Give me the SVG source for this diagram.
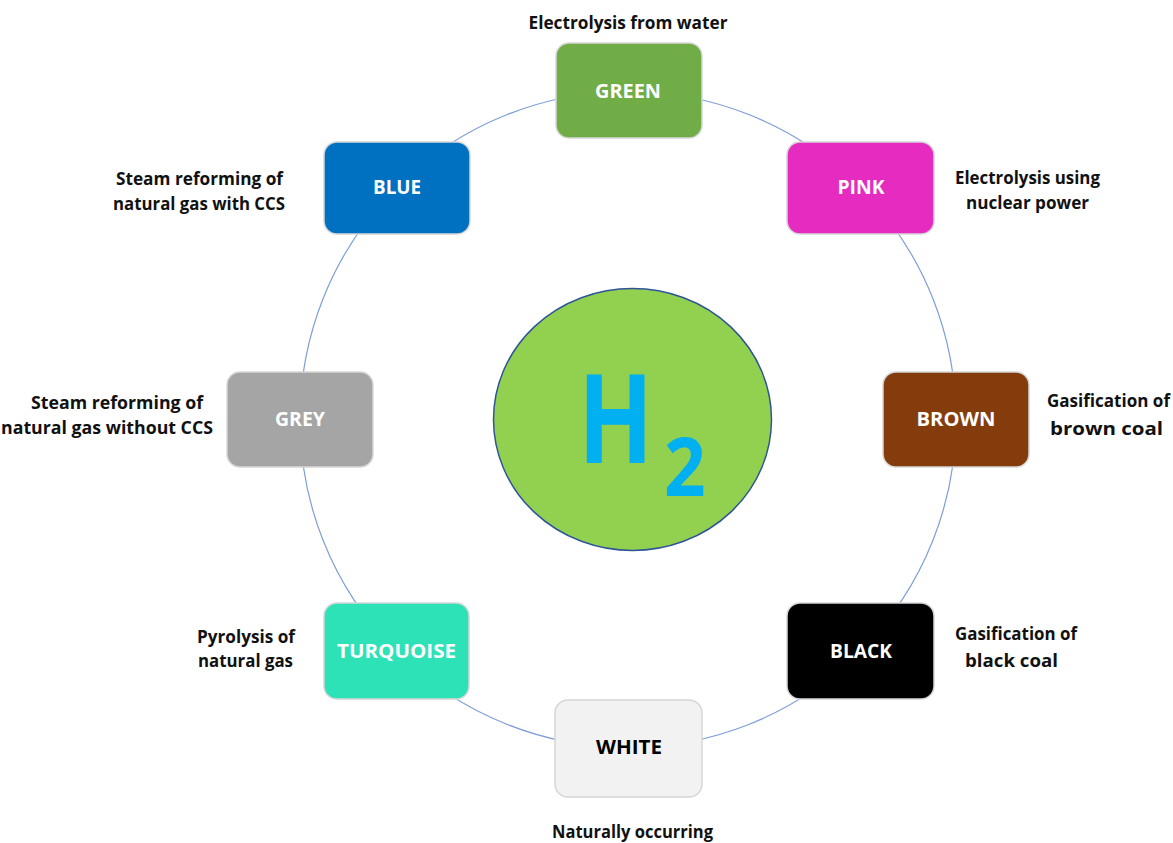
<svg xmlns="http://www.w3.org/2000/svg" width="1173" height="843" viewBox="0 0 1173 843">
<style>
.box{stroke:#d6d6d6;stroke-width:1.5}
.bt{font-family:"Open Sans","Liberation Sans",sans-serif;font-weight:700;font-size:20px;fill:#ffffff;text-anchor:middle}
.lb{font-family:"Open Sans","Liberation Sans",sans-serif;font-weight:700;font-size:17px;fill:#111111;text-anchor:middle}
.ring{fill:none;stroke:#7f9ed8;stroke-width:1.2}
.h2{font-family:"Open Sans","Liberation Sans",sans-serif;font-weight:700;fill:#00b0f0}
</style>
<rect width="1173" height="843" fill="#ffffff"/>
<g id="connectors">
<circle class="ring" cx="628" cy="419.5" r="328"/>
</g>
<g id="h2">
<ellipse cx="632.5" cy="419.5" rx="139" ry="131" fill="#92d050" stroke="#2f5597" stroke-width="1.5"/>
<text class="h2" transform="translate(578,463) scale(0.8,1)" font-size="123">H</text>
<text class="h2" transform="translate(664,496) scale(0.9,1)" font-size="81">2</text>
</g>
<g id="green">
<rect class="box" x="556" y="43" width="146" height="95" rx="13" fill="#70ad47"/>
<text class="bt" x="628" y="98" textLength="66" lengthAdjust="spacingAndGlyphs">GREEN</text>
<text class="lb" x="628" y="29" textLength="199" lengthAdjust="spacingAndGlyphs">Electrolysis from water</text>
</g>
<g id="pink">
<rect class="box" x="787" y="142" width="147" height="92" rx="13" fill="#e52bc0"/>
<text class="bt" x="861" y="194" textLength="47" lengthAdjust="spacingAndGlyphs">PINK</text>
<text class="lb" x="1027.5" y="184" textLength="145" lengthAdjust="spacingAndGlyphs">Electrolysis using</text>
<text class="lb" x="1027.5" y="209" textLength="123" lengthAdjust="spacingAndGlyphs">nuclear power</text>
</g>
<g id="brown">
<rect class="box" x="883" y="372" width="146" height="95" rx="13" fill="#843c0c"/>
<text class="bt" x="956" y="426" textLength="79" lengthAdjust="spacingAndGlyphs">BROWN</text>
<text class="lb" x="1108.5" y="407" textLength="123" lengthAdjust="spacingAndGlyphs">Gasification of</text>
<text class="lb" x="1106.5" y="435" textLength="113" lengthAdjust="spacingAndGlyphs">brown coal</text>
</g>
<g id="black">
<rect class="box" x="787" y="603" width="147" height="96" rx="13" fill="#000000"/>
<text class="bt" x="861" y="658" textLength="62" lengthAdjust="spacingAndGlyphs">BLACK</text>
<text class="lb" x="1016" y="640" textLength="122" lengthAdjust="spacingAndGlyphs">Gasification of</text>
<text class="lb" x="1011.5" y="667" textLength="93" lengthAdjust="spacingAndGlyphs">black coal</text>
</g>
<g id="white">
<rect class="box" x="555" y="700" width="147" height="97" rx="13" fill="#f2f2f2"/>
<text class="bt" x="629" y="754" style="fill:#000000" textLength="66" lengthAdjust="spacingAndGlyphs">WHITE</text>
<text class="lb" x="632.5" y="838" textLength="161" lengthAdjust="spacingAndGlyphs">Naturally occurring</text>
</g>
<g id="turquoise">
<rect class="box" x="324" y="603" width="145" height="96" rx="13" fill="#2de2b7"/>
<text class="bt" x="396.5" y="658" textLength="119" lengthAdjust="spacingAndGlyphs">TURQUOISE</text>
<text class="lb" x="246" y="643" textLength="98" lengthAdjust="spacingAndGlyphs">Pyrolysis of</text>
<text class="lb" x="245.5" y="667" textLength="95" lengthAdjust="spacingAndGlyphs">natural gas</text>
</g>
<g id="grey">
<rect class="box" x="227" y="372" width="146" height="95" rx="13" fill="#a5a5a5"/>
<text class="bt" x="300" y="426" textLength="50" lengthAdjust="spacingAndGlyphs">GREY</text>
<text class="lb" x="117" y="409" textLength="172" lengthAdjust="spacingAndGlyphs">Steam reforming of</text>
<text class="lb" x="107" y="434" textLength="212" lengthAdjust="spacingAndGlyphs">natural gas without CCS</text>
</g>
<g id="blue">
<rect class="box" x="324" y="142" width="146" height="92" rx="13" fill="#0070c0"/>
<text class="bt" x="397" y="194" textLength="48" lengthAdjust="spacingAndGlyphs">BLUE</text>
<text class="lb" x="199.5" y="185" textLength="167" lengthAdjust="spacingAndGlyphs">Steam reforming of</text>
<text class="lb" x="199" y="210" textLength="172" lengthAdjust="spacingAndGlyphs">natural gas with CCS</text>
</g>
</svg>
